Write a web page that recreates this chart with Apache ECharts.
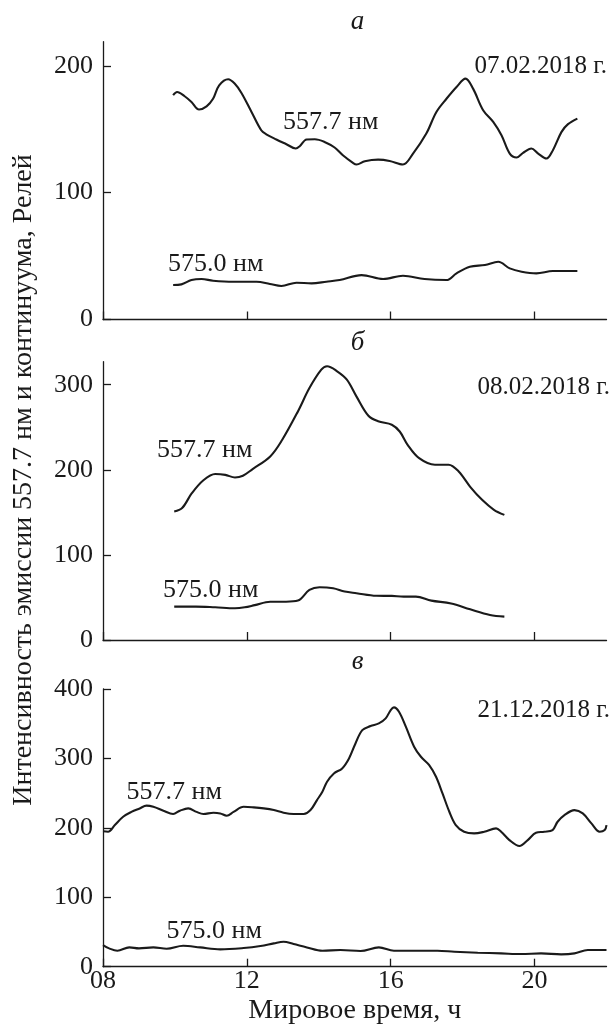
<!DOCTYPE html>
<html>
<head>
<meta charset="utf-8">
<script src="https://cdn.jsdelivr.net/npm/echarts@6/dist/echarts.min.js"></script>
<style>
  html, body { margin: 0; padding: 0; background: #fff; }
  #chart { width: 614px; height: 1029px; }
</style>
</head>
<body>
<div id="chart"></div>
<script>
// hours (UT) and intensities (Rayleigh)
const tA557 = [9.95, 10.06, 10.27, 10.46, 10.67, 10.88, 11.06, 11.23, 11.48, 11.66, 11.85, 12.13, 12.4, 12.54, 12.82, 13.1, 13.36, 13.47, 13.66, 13.89, 14.16, 14.44, 14.67, 14.95, 15.05, 15.28, 15.65, 15.97, 16.34, 16.62, 16.99, 17.27, 17.55, 17.83, 18.08, 18.29, 18.57, 18.85, 19.08, 19.31, 19.5, 19.68, 19.91, 20.1, 20.33, 20.51, 20.75, 20.93, 21.19];
const vA557 = [176.8, 179.4, 176, 171.5, 165.5, 168, 174, 184.6, 189.4, 186, 178.6, 163.6, 149.2, 146, 141.9, 138.2, 134.8, 136.6, 141.9, 142.1, 140, 135.6, 129.5, 123.5, 122.2, 124.8, 126, 125, 122.2, 130.8, 146.6, 163.6, 174, 183.3, 189.9, 182, 165, 155.8, 145.3, 130.8, 127.7, 131.4, 134.8, 130.8, 126.9, 133.5, 147.9, 154, 158.4];

const tA575 = [9.95, 10.18, 10.46, 10.74, 11.06, 11.62, 12.27, 12.64, 12.96, 13.38, 13.8, 14.21, 14.58, 15.19, 15.79, 16.34, 16.94, 17.55, 17.83, 18.2, 18.62, 18.99, 19.31, 19.64, 20.05, 20.51, 21.19];
const vA575 = [27.2, 27.7, 31.1, 31.9, 30.6, 29.8, 29.8, 28, 26.4, 29, 28.5, 29.8, 31.1, 35, 31.9, 34.5, 31.9, 31.1, 36.4, 41.6, 42.9, 45.5, 40.3, 37.7, 36.4, 38.2, 38.2];

const tB557 = [9.98, 10.2, 10.47, 10.8, 11.12, 11.4, 11.67, 11.89, 12.16, 12.65, 12.98, 13.42, 13.74, 14.07, 14.23, 14.51, 14.78, 15.05, 15.38, 15.65, 16.03, 16.25, 16.47, 16.79, 17.23, 17.61, 17.89, 18.21, 18.54, 18.87, 19.16];
const vB557 = [151, 155, 172.5, 188, 195, 194, 191, 193, 200.8, 215.7, 235, 268.6, 296, 317.6, 321.6, 315.7, 305.9, 286, 263.5, 257, 253, 245, 229.4, 213.7, 206, 206, 198, 180, 164.7, 153, 147];

const tB575 = [9.98, 10.58, 11.12, 11.67, 11.94, 12.22, 12.65, 13.09, 13.42, 13.74, 14.02, 14.4, 14.72, 15.05, 15.6, 16.03, 16.36, 16.7, 17.13, 17.68, 18.21, 18.76, 19.16];
const vB575 = [39.2, 39.2, 38.4, 37.3, 38.4, 41, 45, 45, 46.3, 58.8, 62, 60.8, 56.9, 55, 52, 51.8, 51, 51, 46.3, 43, 36, 29.4, 27.5];

const tC557 = [8.0, 8.14, 8.33, 8.56, 8.79, 9.02, 9.21, 9.4, 9.68, 9.95, 10.14, 10.37, 10.6, 10.79, 11.07, 11.26, 11.44, 11.63, 11.91, 12.19, 12.47, 12.75, 13.02, 13.3, 13.58, 13.77, 13.95, 14.1, 14.23, 14.42, 14.65, 14.84, 15.02, 15.21, 15.44, 15.67, 15.86, 16.0, 16.09, 16.23, 16.42, 16.65, 16.84, 17.07, 17.26, 17.44, 17.63, 17.81, 18.04, 18.32, 18.6, 18.93, 19.07, 19.3, 19.58, 19.81, 20.04, 20.27, 20.5, 20.64, 20.83, 21.11, 21.34, 21.58, 21.81, 21.95, 22.0];
const vC557 = [195, 194.4, 204, 216, 223, 228, 232, 230.4, 224.7, 220, 224.7, 228, 223, 220, 221.8, 220.8, 217.5, 223, 230.4, 229.5, 228, 225.6, 221.8, 220, 220, 225.6, 240, 252, 266.4, 278.4, 285.6, 300, 321.6, 340.8, 346.6, 350.5, 357.7, 369.7, 373.5, 367.3, 345.7, 316.9, 302.4, 290.4, 273.6, 249.6, 223.2, 204, 194.4, 192, 194.4, 199.2, 194.4, 182.4, 173.8, 182.4, 193, 194.4, 196.8, 208.8, 218.4, 225.6, 220.8, 206.4, 194.4, 196.8, 204];

const tC575 = [8.0, 8.17, 8.4, 8.73, 9.0, 9.4, 9.77, 10.23, 10.7, 11.26, 11.91, 12.38, 12.75, 13.02, 13.3, 13.67, 14.1, 14.6, 15.16, 15.67, 16.09, 16.74, 17.3, 17.77, 18.42, 19.07, 19.63, 20.18, 20.74, 21.11, 21.48, 22.0];
const vC575 = [31.2, 26.4, 23, 27.8, 26.4, 27.8, 25.9, 30.2, 27.8, 25, 26.9, 29.8, 33.6, 36, 32.6, 27.8, 23, 24, 22.6, 27.8, 23, 23, 23, 21.6, 20.2, 19.2, 18.2, 19.2, 17.8, 19.2, 24, 24];

const xTicks = [8, 12, 16, 20];
const yTicksA = [0, 100, 200];
const yTicksB = [0, 100, 200, 300];
const yTicksC = [0, 100, 200, 300, 400];
const yMax = [219, 327, 400];

const panelNames = ['а', 'б', 'в'];
const dates = ['07.02.2018 г.', '08.02.2018 г.', '21.12.2018 г.'];
const label557 = '557.7 нм';
const label575 = '575.0 нм';
const yTitle = 'Интенсивность эмиссии 557.7 нм и континуума, Релей';
const xTitle = 'Мировое время, ч';

const FONT = 'Liberation Serif';
const INK = '#1a1a1a';

function zip(ts, vs) {
    return ts.map((t, i) => [t, vs[i]]);
}

const grids = [
    { left: 103, right: 7.5, top: 41.7, height: 277.8 },
    { left: 103, right: 7.5, top: 361.7, height: 278.3 },
    { left: 103, right: 7.5, top: 689, height: 277.7 },
];

const xAxes = grids.map((g, i) => ({
    type: 'value',
    gridIndex: i,
    min: 8,
    max: 22,
    axisLine: { lineStyle: { color: INK, width: 1.3 } },
    axisTick: { inside: true, length: 8, customValues: xTicks, lineStyle: { color: INK, width: 1.3 } },
    splitLine: { show: false },
    axisLabel: {
        show: i === 2,
        customValues: xTicks,
        margin: 1,
        color: INK,
        fontFamily: FONT,
        fontSize: 26,
        formatter: v => String(v).padStart(2, '0'),
    },
    name: i === 2 ? xTitle : '',
    nameLocation: 'middle',
    nameGap: 30,
    nameTextStyle: { color: INK, fontFamily: FONT, fontSize: 28 },
}));

const yTickSets = [yTicksA, yTicksB, yTicksC];
const yAxes = grids.map((g, i) => ({
    type: 'value',
    gridIndex: i,
    min: 0,
    max: yMax[i],
    axisLine: { show: true, lineStyle: { color: INK, width: 1.3 } },
    axisTick: { show: true, inside: true, length: 8, customValues: yTickSets[i], lineStyle: { color: INK, width: 1.3 } },
    splitLine: { show: false },
    axisLabel: {
        customValues: yTickSets[i],
        margin: 10,
        color: INK,
        fontFamily: FONT,
        fontSize: 26,
    },
}));

function curve(i, data) {
    return {
        type: 'line',
        xAxisIndex: i,
        yAxisIndex: i,
        data: data,
        smooth: 0.35,
        showSymbol: false,
        silent: true,
        lineStyle: { color: INK, width: 2.1 },
    };
}

const series = [
    curve(0, zip(tA557, vA557)),
    curve(0, zip(tA575, vA575)),
    curve(1, zip(tB557, vB557)),
    curve(1, zip(tB575, vB575)),
    curve(2, zip(tC557, vC557)),
    curve(2, zip(tC575, vC575)),
];

function txt(text, x, y, align, size, extra) {
    return Object.assign({
        type: 'text',
        x: x,
        y: y,
        silent: true,
        style: {
            text: text,
            fill: INK,
            font: (size || 25) + 'px "' + FONT + '"',
            textAlign: align,
            textVerticalAlign: 'middle',
        },
    }, extra || {});
}

const italic = name => ({ style: { text: name, fill: INK, font: 'italic 27px "' + FONT + '"', textAlign: 'center', textVerticalAlign: 'middle' } });

const graphic = [
    txt(panelNames[0], 357.5, 22, 'center', 27, italic(panelNames[0])),
    txt(panelNames[1], 357.5, 343, 'center', 27, italic(panelNames[1])),
    txt(panelNames[2], 357.5, 662, 'center', 27, italic(panelNames[2])),
    txt(dates[0], 607, 66, 'right'),
    txt(dates[1], 610, 387, 'right'),
    txt(dates[2], 610, 710, 'right'),
    txt(label557, 283, 122, 'left', 26),
    txt(label575, 168, 264, 'left', 26),
    txt(label557, 157, 450, 'left', 26),
    txt(label575, 163, 590, 'left', 26),
    txt(label557, 126.5, 792, 'left', 26),
    txt(label575, 166.5, 931, 'left', 26),
    txt(yTitle, 24, 480, 'center', 28, { rotation: Math.PI / 2 }),
];

echarts.init(document.getElementById('chart'), null, { renderer: 'canvas' }).setOption({
    animation: false,
    backgroundColor: '#fff',
    grid: grids,
    xAxis: xAxes,
    yAxis: yAxes,
    series: series,
    graphic: graphic,
});
</script>
</body>
</html>
